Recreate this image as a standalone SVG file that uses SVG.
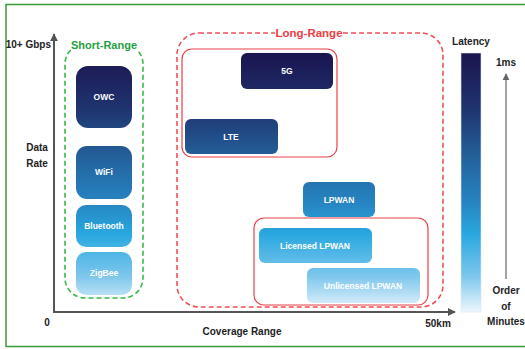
<svg xmlns="http://www.w3.org/2000/svg" width="525" height="349" viewBox="0 0 525 349">
  <defs>
    <!-- latency scale: shared by the bar and every technology box -->
    <linearGradient id="lat" gradientUnits="userSpaceOnUse" x1="0" y1="53" x2="0" y2="312">
      <stop offset="0" stop-color="#1b1450"/>
      <stop offset="0.22" stop-color="#1f3570"/>
      <stop offset="0.42" stop-color="#2465a0"/>
      <stop offset="0.58" stop-color="#2685c2"/>
      <stop offset="0.70" stop-color="#29a8e0"/>
      <stop offset="0.86" stop-color="#7cc6ec"/>
      <stop offset="1" stop-color="#eef7fd"/>
    </linearGradient>
    <marker id="arr" viewBox="0 0 10 10" refX="9" refY="5" markerWidth="4" markerHeight="4" orient="auto">
      <path d="M0,0 L10,5 L0,10 z" fill="#555"/>
    </marker>
    <marker id="arrs" viewBox="0 0 10 10" refX="9" refY="5" markerWidth="6" markerHeight="6" orient="auto">
      <path d="M0,0 L10,5 L0,10 z" fill="#666"/>
    </marker>
  </defs>
  <style>
    text { font-family: "Liberation Sans", Arial, sans-serif; font-weight: bold; }
    .lbl { fill: #222; font-size: 10px; text-anchor: middle; }
    .box { fill: url(#lat); }
    .bt { fill: #fff; font-size: 8.5px; text-anchor: middle; }
    .grp { fill: none; stroke: #e8414a; stroke-width: 1.2; }
  </style>

  <rect width="525" height="349" fill="#fff"/>
  <!-- outer frame -->
  <rect x="6" y="4.5" width="530" height="342" fill="none" stroke="#3a9a3a" stroke-width="1.5"/>

  <!-- axes -->
  <g id="axes" fill="none" stroke="#555" stroke-width="2">
    <path d="M54,312 L54,34" marker-end="url(#arr)"/>
    <path d="M53,312 L455,312" marker-end="url(#arr)"/>
  </g>
  <text class="lbl" x="51" y="48" style="text-anchor:end">10+ Gbps</text>
  <text class="lbl" x="37" y="151">Data</text>
  <text class="lbl" x="37" y="167">Rate</text>
  <text class="lbl" x="47" y="326">0</text>
  <text class="lbl" x="438" y="327">50km</text>
  <text class="lbl" x="242" y="335">Coverage Range</text>

  <!-- short-range group -->
  <g id="short-range">
    <rect x="65" y="44" width="78" height="254" rx="20" fill="none" stroke="#3cb54a" stroke-width="1.6" stroke-dasharray="5,3"/>
    <rect x="71" y="37" width="66" height="14" fill="#fff"/>
    <text x="104" y="48.5" font-size="11" fill="#1fa043" text-anchor="middle">Short-Range</text>
  </g>

  <!-- long-range group -->
  <g id="long-range">
    <rect x="177" y="33" width="266" height="274" rx="22" fill="none" stroke="#f0525a" stroke-width="1.6" stroke-dasharray="5,3"/>
    <rect x="275" y="26" width="68" height="14" fill="#fff"/>
    <text x="309" y="37" font-size="11.5" fill="#ee3b45" text-anchor="middle">Long-Range</text>
    <rect class="grp" x="182" y="49" width="155" height="108" rx="10"/>
    <rect class="grp" x="254" y="218" width="174" height="87" rx="10"/>
  </g>

  <!-- technology nodes -->
  <g id="owc"><rect class="box" x="76" y="66" width="56" height="62" rx="12"/><text class="bt" x="104" y="100">OWC</text></g>
  <g id="wifi"><rect class="box" x="76" y="146" width="56" height="53" rx="11"/><text class="bt" x="104" y="175">WiFi</text></g>
  <g id="bluetooth"><rect class="box" x="76" y="205" width="56" height="42" rx="10"/><text class="bt" x="104" y="229">Bluetooth</text></g>
  <g id="zigbee"><rect class="box" x="76" y="252" width="56" height="43" rx="10"/><text class="bt" x="104" y="276">ZigBee</text></g>
  <g id="5g"><rect class="box" x="241" y="53" width="92" height="36" rx="6"/><text class="bt" x="287" y="74">5G</text></g>
  <g id="lte"><rect class="box" x="185" y="119" width="93" height="35" rx="6"/><text class="bt" x="231" y="139.5">LTE</text></g>
  <g id="lpwan"><rect class="box" x="303" y="182" width="72" height="35" rx="6"/><text class="bt" x="339" y="202.5">LPWAN</text></g>
  <g id="licensed-lpwan"><rect class="box" x="259" y="228" width="113" height="35" rx="6"/><text class="bt" x="315" y="248.5">Licensed LPWAN</text></g>
  <g id="unlicensed-lpwan"><rect class="box" x="307" y="268" width="113" height="35" rx="6"/><text class="bt" x="363" y="288.5">Unlicensed LPWAN</text></g>

  <!-- latency legend -->
  <g id="latency">
    <text class="lbl" x="471" y="45">Latency</text>
    <rect x="461" y="53" width="20" height="259" fill="url(#lat)" stroke="#dde8f2" stroke-width="0.6"/>
    <text class="lbl" x="506" y="65.5">1ms</text>
    <path d="M506,279 L506,74" stroke="#666" stroke-width="1.2" fill="none" marker-end="url(#arrs)"/>
    <text class="lbl" x="506" y="294">Order</text>
    <text class="lbl" x="506" y="310">of</text>
    <text class="lbl" x="506" y="325">Minutes</text>
  </g>
</svg>
